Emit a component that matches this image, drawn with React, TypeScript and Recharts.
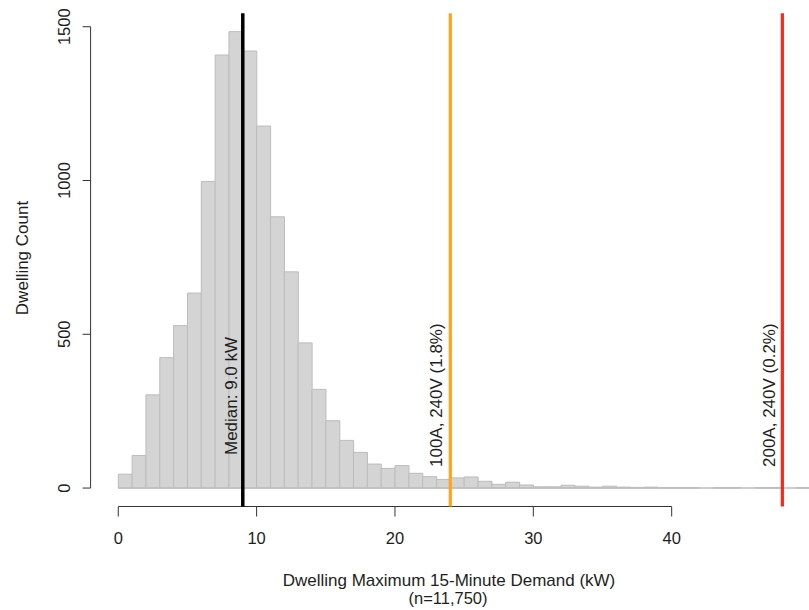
import React from "react";
import {
  ComposedChart,
  Bar,
  XAxis,
  YAxis,
  ReferenceLine,
  Customized,
} from "recharts";

// 1 kW bins, lower edge of each bin
const binStarts = [
  0, 1, 2, 3, 4, 5, 6, 7, 8, 9, 10, 11, 12, 13, 14, 15, 16, 17, 18, 19, 20, 21,
  22, 23, 24, 25, 26, 27, 28, 29, 30, 31, 32, 33, 34, 35, 36, 37, 38, 39, 40,
  41, 42, 43, 44, 45, 46, 47, 48, 49,
];
const counts = [
  45, 106, 303, 424, 528, 634, 997, 1408, 1484, 1421, 1177, 882, 703, 472, 321,
  219, 155, 116, 78, 64, 73, 48, 37, 28, 33, 36, 22, 12, 19, 10, 4, 4, 9, 6, 3,
  6, 3, 2, 3, 1, 1, 1, 0, 1, 1, 0, 1, 1, 0, 1,
];
const xTicks = [0, 10, 20, 30, 40];
const yTicks = [0, 500, 1000, 1500];
const medianKw = 9.0;
const medianLabel = "Median: 9.0 kW";
const serviceLimits = [24, 48];
const serviceLabels = ["100A, 240V (1.8%)", "200A, 240V (0.2%)"];
const xTitle = "Dwelling Maximum 15-Minute Demand (kW)";
const xSubtitle = "(n=11,750)";
const yTitle = "Dwelling Count";

const FONT = '"Liberation Sans", Arial, Helvetica, sans-serif';
const TEXT = "#1e1e1e";
const AXIS = "#333";

const data = binStarts.map((b, i) => ({ mid: b + 0.5, count: counts[i] }));

const limitStyles = [
  { color: "#ffa51c", dx: -8 },
  { color: "#f8281a", dx: -7 },
];

const YTick = (props: any) => {
  const { x, y, payload } = props;
  return (
    <text
      x={x}
      y={y}
      transform={`rotate(-90 ${x} ${y})`}
      textAnchor="middle"
      fontSize={16.5}
      fontFamily={FONT}
      fill={TEXT}
    >
      {payload.value}
    </text>
  );
};

const XTick = (props: any) => {
  const { x, y, payload } = props;
  return (
    <text
      x={x}
      y={y}
      textAnchor="middle"
      fontSize={16.5}
      fontFamily={FONT}
      fill={TEXT}
    >
      {payload.value}
    </text>
  );
};

const vLabel = (text: string, dx: number, lift: number) => (props: any) => {
  const vb = props.viewBox || {};
  const x = vb.x + dx;
  const y = vb.y + vb.height - lift;
  return (
    <text
      x={x}
      y={y}
      transform={`rotate(-90 ${x} ${y})`}
      textAnchor="start"
      fontSize={17}
      fontFamily={FONT}
      fill={TEXT}
    >
      {text}
    </text>
  );
};

const Titles = () => (
  <g fontFamily={FONT} fill={TEXT}>
    <text x={449} y={586} textAnchor="middle" fontSize={17}>
      {xTitle}
    </text>
    <text x={448} y={604} textAnchor="middle" fontSize={16.5}>
      {xSubtitle}
    </text>
    <text
      x={28}
      y={258}
      transform="rotate(-90 28 258)"
      textAnchor="middle"
      fontSize={17}
    >
      {yTitle}
    </text>
  </g>
);

export default function App() {
  return (
    <div
      style={{
        position: "absolute",
        left: 0,
        top: 0,
        width: 809,
        height: 610,
        overflow: "hidden",
        background: "#fff",
      }}
    >
      <ComposedChart
        width={838}
        height={610}
        data={data}
        margin={{ top: 13.2, right: 0.3, left: 0, bottom: 43.5 }}
        barCategoryGap={0}
        barGap={0}
      >
        <XAxis
          dataKey="mid"
          type="number"
          domain={[-2, 52]}
          allowDataOverflow
          ticks={xTicks}
          axisLine={false}
          tickSize={10}
          tickMargin={27.5}
          tickLine={{ stroke: AXIS }}
          tick={<XTick />}
          height={60}
        />
        <YAxis
          type="number"
          domain={[-60, 1544]}
          allowDataOverflow
          ticks={yTicks}
          axisLine={false}
          tickSize={8}
          tickMargin={12.6}
          tickLine={{ stroke: AXIS }}
          tick={<YTick />}
          width={90.6}
        />
        <Bar
          dataKey="count"
          fill="#d4d4d5"
          stroke="#bcbcbc"
          strokeWidth={1}
          isAnimationActive={false}
        />
        <ReferenceLine
          segment={[
            { x: 0, y: 0 },
            { x: 50, y: 0 },
          ]}
          stroke="#bcbcbc"
          strokeWidth={1.5}
          ifOverflow="visible"
        />
        <ReferenceLine
          segment={[
            { x: 0, y: -60 },
            { x: 40, y: -60 },
          ]}
          stroke={AXIS}
          strokeWidth={1}
          ifOverflow="visible"
        />
        <ReferenceLine
          segment={[
            { x: -2, y: 0 },
            { x: -2, y: 1500 },
          ]}
          stroke={AXIS}
          strokeWidth={1}
          ifOverflow="visible"
        />
        <ReferenceLine
          x={medianKw}
          stroke="#000"
          strokeWidth={3.5}
          label={{ content: vLabel(medianLabel, -6, 51.5) }}
        />
        {serviceLimits.map((v, i) => (
          <ReferenceLine
            key={v}
            x={v}
            stroke={limitStyles[i].color}
            strokeWidth={3.2}
            label={{ content: vLabel(serviceLabels[i], limitStyles[i].dx, 39.5) }}
          />
        ))}
        <Customized component={Titles} />
      </ComposedChart>
    </div>
  );
}
